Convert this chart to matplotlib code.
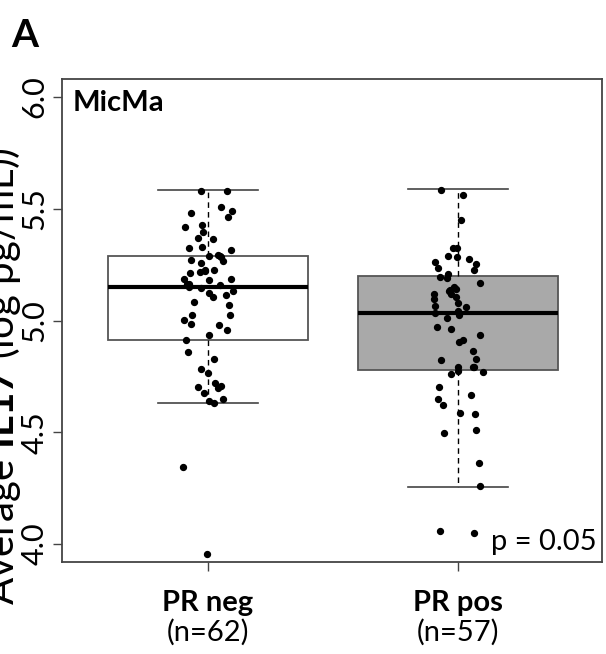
import matplotlib
matplotlib.use('Agg')
import matplotlib.pyplot as plt

plt.rcParams['font.family'] = ['Lato', 'DejaVu Sans']
plt.rcParams['mathtext.fontset'] = 'custom'
plt.rcParams['mathtext.rm'] = 'Lato'
plt.rcParams['mathtext.bf'] = 'Lato:bold'

groups = ['PR neg', 'PR pos']
counts = ['(n=62)', '(n=57)']
box_fill = ['white', '#A9A9A9']

# box statistics
q1 = [4.912, 4.778]
med = [5.151, 5.035]
q3 = [5.290, 5.197]
whis_lo = [4.629, 4.256]
whis_hi = [5.582, 5.587]

# PR neg: values and horizontal jitter
neg_vals = [5.579, 5.579, 5.507, 5.489, 5.480, 5.462, 5.419, 5.425, 5.398, 5.368,
            5.363, 5.323, 5.330, 5.314, 5.289, 5.291, 5.282, 5.267, 5.272, 5.255,
            5.213, 5.219, 5.226, 5.224, 5.187, 5.179, 5.187, 5.161, 5.161, 5.158,
            5.146, 5.124, 5.106, 5.113, 5.134, 5.083, 5.070, 5.004, 5.025, 5.025,
            4.986, 4.981, 4.959, 4.936, 4.912, 4.860, 4.828, 4.782, 4.767, 4.702,
            4.722, 4.697, 4.706, 4.674, 4.648, 4.640, 4.629, 4.343, 3.956, 5.152,
            5.220, 5.290]
neg_jit = [-0.027, 0.079, 0.055, 0.099, -0.065, 0.083, -0.089, -0.022, -0.019, -0.038,
           0.023, -0.073, -0.022, 0.095, 0.006, 0.043, 0.055, 0.062, -0.065, -0.027,
           -0.069, -0.029, -0.009, 0.027, -0.093, 0.006, 0.095, -0.082, -0.074, 0.051,
           -0.025, 0.006, 0.023, 0.074, 0.103, -0.053, 0.087, -0.093, -0.061, 0.090,
           -0.065, 0.047, 0.079, 0.006, -0.085, -0.078, 0.026, -0.026, 0.003, -0.038,
           0.030, 0.041, 0.055, -0.013, 0.063, 0.006, 0.025, -0.098, -0.002, -0.076,
           -0.012, 0.048]

# PR pos: values and horizontal jitter
pos_vals = [5.583, 5.561, 5.449, 5.326, 5.326, 5.288, 5.282, 5.275, 5.260, 5.236,
            5.253, 5.224, 5.196, 5.206, 5.191, 5.169, 5.149, 5.142, 5.131, 5.120,
            5.119, 5.107, 5.095, 5.077, 5.065, 5.061, 5.034, 5.041, 5.026, 5.013,
            4.969, 4.963, 4.935, 4.914, 4.903, 4.864, 4.827, 4.824, 4.791, 4.790,
            4.773, 4.770, 4.761, 4.702, 4.665, 4.648, 4.620, 4.587, 4.580, 4.497,
            4.509, 4.361, 4.261, 4.060, 4.051, 5.135, 4.793]
pos_jit = [-0.067, 0.021, 0.012, -0.021, -0.004, -0.041, -0.004, 0.045, -0.091, -0.080,
           0.072, 0.065, -0.071, -0.041, -0.043, 0.089, -0.015, -0.008, -0.037, -0.029,
           -0.096, -0.009, -0.096, -0.001, -0.091, 0.032, -0.091, 0.000, 0.004, -0.045,
           -0.084, -0.028, 0.089, 0.021, 0.003, 0.061, 0.072, -0.067, 0.065, 0.000,
           0.000, 0.101, -0.028, -0.076, 0.053, -0.080, -0.059, 0.008, 0.069, -0.056,
           0.073, 0.085, 0.089, -0.071, 0.064, -0.033, 0.062]

y_ticks = [4.0, 4.5, 5.0, 5.5, 6.0]
panel_title = 'MicMa'
p_text = 'p = 0.05'

fig = plt.figure(figsize=(6.06, 6.54), dpi=100)
ax = fig.add_axes([62 / 606, 1 - 562 / 654, 540 / 606, 483 / 654])

stats = []
for i in range(2):
    stats.append(dict(med=med[i], q1=q1[i], q3=q3[i], whislo=whis_lo[i],
                      whishi=whis_hi[i], fliers=[]))

bp = ax.bxp(stats, positions=[1, 2], widths=0.8, capwidths=0.4,
            showfliers=False, patch_artist=True,
            boxprops=dict(edgecolor='#555555', linewidth=1.3),
            medianprops=dict(color='black', linewidth=3),
            whiskerprops=dict(color='black', linewidth=1, linestyle=(0, (4, 3))),
            capprops=dict(color='#444444', linewidth=1.2))
for patch, fc in zip(bp['boxes'], box_fill):
    patch.set_facecolor(fc)

ax.scatter([1 + j for j in neg_jit], neg_vals, s=18, color='black', zorder=5)
ax.scatter([2 + j for j in pos_jit], pos_vals, s=18, color='black', zorder=5)

ax.set_xlim(0.418, 2.576)
ax.set_ylim(3.92, 6.08)

ax.set_yticks(y_ticks)
ax.set_yticklabels(['%.1f' % t for t in y_ticks], rotation=90, va='center', fontsize=22)
ax.set_xticks([1, 2])
ax.set_xticklabels(['', ''])
ax.tick_params(axis='both', length=6.5, width=1, color='#444444', pad=3)

for sp in ax.spines.values():
    sp.set_color('#444444')
    sp.set_linewidth(1.3)

for i in range(2):
    ax.annotate(groups[i], xy=(i + 1, 0), xycoords=('data', 'axes fraction'),
                xytext=(0, -20), textcoords='offset points', ha='center', va='top',
                fontsize=21, fontweight='bold')
    ax.annotate(counts[i], xy=(i + 1, 0), xycoords=('data', 'axes fraction'),
                xytext=(0, -41), textcoords='offset points', ha='center', va='top',
                fontsize=21)

ax.text(0.02, 0.978, panel_title, transform=ax.transAxes, ha='left', va='top',
        fontsize=21, fontweight='bold')
ax.text(0.99, 0.025, p_text, transform=ax.transAxes, ha='right', va='baseline',
        fontsize=21)

fig.text(23 / 606, 1 - 376 / 654, r'Average $\mathbf{IL17}$ (log pg/mL))', rotation=90,
         ha='right', va='center', fontsize=29)
fig.text(11 / 606, 1 - 18 / 654, 'A', ha='left', va='top', fontsize=28, fontweight='bold')

fig.savefig('out.png', dpi=100)
